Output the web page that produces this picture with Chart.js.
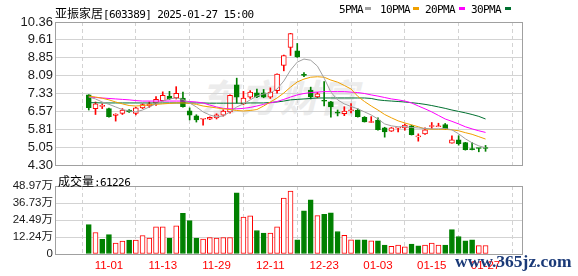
<!DOCTYPE html>
<html><head><meta charset="utf-8">
<script src="https://cdn.jsdelivr.net/npm/chart.js@4.4.1/dist/chart.umd.min.js"></script>
<style>
html,body{margin:0;padding:0;background:#fff;width:578px;height:276px;overflow:hidden;}
body{position:relative;font-family:"Noto Sans CJK SC",sans-serif;}
canvas{position:absolute;left:0;z-index:1;}
#c1{top:0;}
#c2{top:170px;}
.t{position:absolute;white-space:nowrap;line-height:1;z-index:2;}
.m{font-family:"DejaVu Sans Mono",monospace;font-size:11px;letter-spacing:-0.6px;}
.sq{position:absolute;width:6px;height:3px;z-index:2;}
#wm{position:absolute;left:200px;top:68px;z-index:0;white-space:nowrap;line-height:1;
  font:italic bold 38px "Noto Sans CJK SC",sans-serif;color:#ececec;letter-spacing:2px;}
</style></head><body>
<div id="wm">东方财富</div>
<canvas id="c1" width="578" height="180"></canvas>
<canvas id="c2" width="578" height="106"></canvas>
<div class="t" style="left:55px;top:3px;color:#000;"><span style="font-size:12px;">亚振家居</span><span class="m">[603389] 2025-01-27 15:00</span></div>
<div class="t m" style="left:339px;top:4px;color:#000;">5PMA</div><div class="sq" style="left:365px;top:7px;background:#a0a0a0"></div>
<div class="t m" style="left:380px;top:4px;color:#000;">10PMA</div><div class="sq" style="left:413px;top:7px;background:#f0a000"></div>
<div class="t m" style="left:425px;top:4px;color:#000;">20PMA</div><div class="sq" style="left:459px;top:7px;background:#ff00ff"></div>
<div class="t m" style="left:471px;top:4px;color:#000;">30PMA</div><div class="sq" style="left:505px;top:7px;background:#007030"></div>
<div class="t" style="left:58px;top:171px;color:#000;"><span style="font-size:12px;">成交量</span><span class="m">:61226</span></div>
<div class="t" style="left:455px;top:251px;color:#1b3a78;font:bold 17.5px 'Liberation Serif',serif;">www.365jz.com</div>
<script>
// ---- data ----
const dates = ['10-29','10-30','10-31','11-01','11-04','11-05','11-06','11-07','11-08','11-11',
 '11-12','11-13','11-14','11-15','11-18','11-19','11-20','11-21','11-22','11-29',
 '12-02','12-03','12-04','12-05','12-06','12-09','12-10','12-11','12-12','12-13',
 '12-16','12-17','12-18','12-19','12-20','12-23','12-24','12-25','12-26','12-27',
 '12-30','12-31','01-02','01-03','01-06','01-07','01-08','01-09','01-10','01-13',
 '01-14','01-15','01-16','01-17','01-20','01-21','01-22','01-23','01-24','01-27'];
const opens = [7.27,6.69,6.78,6.69,6.40,6.49,6.63,6.49,6.72,6.80,
 6.92,7.03,7.22,7.14,7.14,6.60,6.38,6.24,6.24,6.29,
 6.41,6.55,7.70,6.89,7.17,7.36,7.36,7.17,7.45,8.52,
 9.28,9.14,8.11,7.47,7.18,7.03,6.98,6.52,6.47,6.60,
 6.63,6.32,6.10,6.20,5.87,5.73,5.86,5.87,5.96,5.49,
 5.62,5.93,5.92,6.01,5.23,5.37,5.25,4.96,5.01,5.01];
const closes = [6.73,6.89,6.83,6.35,6.46,6.63,6.55,6.72,6.86,6.89,
 7.08,7.25,7.11,7.34,6.77,6.41,6.21,6.26,6.32,6.43,
 6.58,7.25,7.17,7.14,7.39,7.19,7.17,7.39,8.15,8.94,
 9.87,8.88,8.10,7.18,7.32,7.00,6.76,6.50,6.58,6.64,
 6.35,6.13,6.14,5.80,5.70,5.87,5.89,5.99,5.59,5.53,
 5.79,5.97,5.94,5.82,5.37,5.20,4.95,4.95,5.00,5.00];
const highs = [7.28,6.97,6.89,6.71,6.47,6.69,6.65,6.74,6.89,6.97,
 7.20,7.40,7.42,7.62,7.39,6.72,6.43,6.26,6.34,6.47,
 6.64,7.27,7.98,7.42,7.45,7.52,7.50,7.57,8.16,8.96,
 9.88,9.45,8.22,7.60,7.38,7.83,7.00,6.63,6.77,6.90,
 6.68,6.35,6.35,6.30,5.90,5.89,5.90,6.03,5.99,5.62,
 5.88,6.10,6.07,6.06,5.54,5.54,5.26,5.25,5.01,5.13];
const lows = [6.63,6.44,6.69,6.33,6.16,6.44,6.53,6.42,6.69,6.74,
 6.83,7.01,7.08,7.10,6.75,6.21,6.12,5.99,6.22,6.25,
 6.37,6.50,6.92,6.85,7.12,7.15,7.15,7.12,7.34,8.29,
 8.94,8.86,8.04,7.10,7.14,6.80,6.33,6.38,6.39,6.51,
 6.33,6.12,6.10,5.78,5.48,5.72,5.70,5.78,5.57,5.31,
 5.60,5.85,5.92,5.80,5.22,5.14,4.93,4.94,4.86,4.88];
const ma5 = [7.18,7.10,6.97,6.87,6.76,6.65,6.59,6.55,6.63,6.76,
 6.89,7.01,7.10,7.14,7.08,6.93,6.76,6.55,6.42,6.34,
 6.38,6.55,6.76,6.89,7.06,7.22,7.31,7.35,7.52,7.86,
 8.32,8.66,8.79,8.74,8.49,7.98,7.39,7.06,6.89,6.78,
 6.68,6.55,6.42,6.25,6.04,5.96,5.92,5.92,5.89,5.87,
 5.85,5.83,5.83,5.85,5.79,5.62,5.41,5.24,5.11,5.03];
const ma10 = [7.22,7.18,7.13,7.06,6.97,6.89,6.82,6.80,6.82,6.85,
 6.87,6.89,6.91,6.93,6.93,6.91,6.87,6.80,6.76,6.72,
 6.68,6.65,6.61,6.59,6.61,6.65,6.80,6.97,7.14,7.35,
 7.60,7.82,7.94,8.02,8.04,8.02,7.90,7.81,7.67,7.52,
 7.21,6.99,6.80,6.63,6.44,6.30,6.17,6.08,6.00,5.92,
 5.83,5.81,5.81,5.81,5.79,5.75,5.67,5.60,5.50,5.40];
const ma20 = [7.18,7.16,7.14,7.12,7.10,7.08,7.06,7.03,7.01,7.01,
 7.01,7.01,7.01,7.01,7.01,6.99,6.97,6.93,6.84,6.76,
 6.70,6.68,6.68,6.70,6.74,6.80,6.87,6.93,6.99,7.08,
 7.18,7.27,7.33,7.37,7.39,7.41,7.41,7.41,7.41,7.39,
 7.37,7.33,7.27,7.22,7.16,7.10,7.06,7.01,6.93,6.80,
 6.68,6.55,6.40,6.25,6.15,6.04,5.92,5.83,5.75,5.68];
const ma30 = [6.94,6.94,6.93,6.93,6.93,6.93,6.93,6.93,6.93,6.93,
 6.93,6.93,6.93,6.93,6.93,6.93,6.93,6.93,6.92,6.92,
 6.92,6.92,6.92,6.92,6.93,6.93,6.93,6.95,6.97,7.01,
 7.06,7.08,7.10,7.12,7.14,7.14,7.14,7.14,7.14,7.14,
 7.14,7.14,7.12,7.06,7.03,7.01,6.99,6.97,6.94,6.91,
 6.87,6.82,6.76,6.70,6.63,6.57,6.51,6.44,6.36,6.25];
const volumes = [212000,155000,105000,140000,78000,93000,100000,100000,133000,114000,
 195000,195000,114000,202000,292000,240000,114000,107000,119000,114000,
 119000,119000,440000,266000,274000,169000,150000,150000,195000,402000,
 454000,102000,311000,390000,276000,285000,297000,162000,135000,102000,
 102000,102000,95000,95000,64000,56000,64000,51000,71000,58000,
 64000,78000,64000,64000,176000,126000,95000,102000,60000,61226];
const volUp = [0,1,0,0,1,1,0,1,1,1, 1,1,0,1,0,0,0,1,1,1, 1,1,0,1,1,0,0,1,1,1,
 1,0,0,0,1,0,0,0,1,1, 0,0,1,0,0,1,1,1,0,0, 1,1,1,0,0,0,0,0,1,1];
const priceTicks = ['4.30','5.05','5.81','6.57','7.33','8.09','8.85','9.61','10.36'];
const volTicks = ['0','12.24万','24.49万','36.73万','48.97万'];
const dateTickIdx = [3,11,19,27,35,43,51,59];

// ---- styles ----
const RED = '#ff0000', GREEN = '#008000';
const GRID = '#d3d3d3';
const XMIN = -0.682, XMAX = 60.08;
const PMIN = 4.30, PMAX = 10.36, VMAX = 489700;

const borderPlugin = {
  id: 'frame',
  afterDraw(chart) {
    const a = chart.chartArea, ctx = chart.ctx;
    ctx.save();
    ctx.strokeStyle = '#a0a0a0';
    ctx.lineWidth = 1;
    ctx.strokeRect(Math.round(a.left) + 0.5, Math.round(a.top) + 0.5,
      Math.round(a.right) - Math.round(a.left), Math.round(a.bottom) - Math.round(a.top));
    ctx.restore();
  }
};

const xs = dates.map((d, i) => i);
const pts = arr => arr.map((v, i) => ({x: i, y: v}));
const isUp = i => closes[i] >= opens[i];

const xScaleBase = {
  type: 'linear', min: XMIN, max: XMAX,
  grid: {color: GRID, drawTicks: false},
  border: {display: false, dash: [4, 3]},
  afterBuildTicks: s => { s.ticks = dateTickIdx.map(v => ({value: v})); }
};

new Chart(document.getElementById('c1'), {
  data: {
    datasets: [
      {type: 'line', data: pts(ma5), borderColor: '#a0a0a0', borderWidth: 1, pointRadius: 0, order: 0},
      {type: 'line', data: pts(ma10), borderColor: '#f0a000', borderWidth: 1, pointRadius: 0, order: 0},
      {type: 'line', data: pts(ma20), borderColor: '#ff00ff', borderWidth: 1, pointRadius: 0, order: 0},
      {type: 'line', data: pts(ma30), borderColor: '#007030', borderWidth: 1, pointRadius: 0, order: 0},
      {type: 'bar', order: 1, grouped: false, barThickness: 5, minBarLength: 1, borderWidth: 1, borderSkipped: false,
       data: xs.map(i => ({x: i, y: [Math.min(opens[i], closes[i]), Math.max(opens[i], closes[i])]})),
       backgroundColor: xs.map(i => isUp(i) ? '#ffffff' : GREEN),
       borderColor: xs.map(i => isUp(i) ? RED : GREEN)},
      {type: 'bar', order: 2, grouped: false, barThickness: 1, borderWidth: 0,
       data: xs.map(i => ({x: i, y: [lows[i], highs[i]]})),
       backgroundColor: xs.map(i => isUp(i) ? RED : GREEN)}
    ]
  },
  options: {
    responsive: false, animation: false,
    layout: {padding: {left: 0, right: 56, top: 22, bottom: 15}},
    plugins: {legend: {display: false}, tooltip: {enabled: false}},
    scales: {
      x: Object.assign({}, xScaleBase, {ticks: {display: false}, afterFit: s => { s.height = 0; }}),
      y: {
        min: PMIN, max: PMAX,
        grid: {color: GRID, drawTicks: false},
        border: {display: false},
        afterBuildTicks: s => { s.ticks = priceTicks.map((t, i) => ({value: PMIN + i * (PMAX - PMIN) / 8})); },
        afterFit: s => { s.width = 55; },
        ticks: {autoSkip: false, padding: 2, color: '#1a1a1a',
          font: {family: '"Liberation Sans", Arial, sans-serif', size: 13},
          callback: (v, i) => priceTicks[i]}
      }
    }
  },
  plugins: [borderPlugin]
});

new Chart(document.getElementById('c2'), {
  type: 'bar',
  data: {
    labels: dates,
    datasets: [{
      data: pts(volumes), grouped: false, barThickness: 5, borderWidth: 1, borderSkipped: false,
      backgroundColor: volUp.map(u => u ? '#ffffff' : GREEN),
      borderColor: volUp.map(u => u ? RED : GREEN)
    }]
  },
  options: {
    responsive: false, animation: false,
    layout: {padding: {left: 0, right: 56, top: 16, bottom: 0}},
    plugins: {legend: {display: false}, tooltip: {enabled: false}},
    scales: {
      x: Object.assign({}, xScaleBase, {
        afterFit: s => { s.height = 22; },
        ticks: {autoSkip: false, maxRotation: 0, padding: 5, color: RED,
          font: {family: '"Liberation Sans", Arial, sans-serif', size: 11.5},
          callback: v => dates[v]}
      }),
      y: {
        min: 0, max: VMAX,
        grid: {color: GRID, drawTicks: false},
        border: {display: false},
        afterBuildTicks: s => { s.ticks = volTicks.map((t, i) => ({value: i * VMAX / 4})); },
        afterFit: s => { s.width = 55; },
        ticks: {autoSkip: false, padding: 2, color: '#1a1a1a',
          font: {family: '"Liberation Sans", "Noto Sans CJK SC", sans-serif', size: 11.5},
          callback: (v, i) => volTicks[i]}
      }
    }
  },
  plugins: [borderPlugin]
});
</script>
</body></html>
